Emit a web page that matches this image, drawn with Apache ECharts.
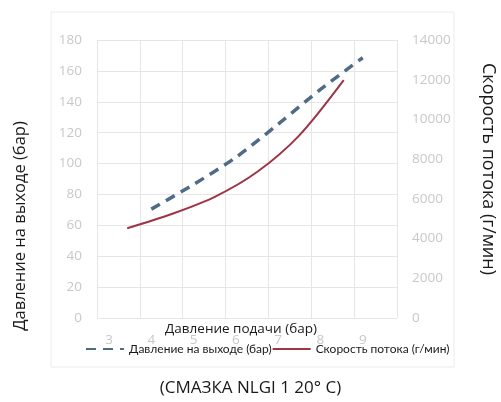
<!DOCTYPE html>
<html>
<head>
<meta charset="utf-8">
<script src="https://cdn.jsdelivr.net/npm/echarts@6/dist/echarts.min.js"></script>
<style>
  html, body { margin: 0; padding: 0; background: #fff; }
  #chart { width: 501px; height: 402px; }
</style>
</head>
<body>
<div id="chart"></div>
<script>
// данные
const pressureX = [4, 5, 6, 7, 8, 9]            // давление подачи (бар)
const outletPressure = [70.5, 86.5, 104, 125.5, 148, 168.5] // давление на выходе (бар)
const flowX = [3.43, 4.5, 5.5, 6.5, 7.5, 8.55]
const flowRate = [4520, 5250, 6100, 7350, 9200, 11980] // скорость потока (г/мин)
const xTicks = [3, 4, 5, 6, 7, 8, 9]

const font = 'Open Sans, Noto Sans, sans-serif'
const chart = echarts.init(document.getElementById('chart'))

const option = {
  backgroundColor: '#fff',
  animation: false,
  textStyle: { fontFamily: font },
  title: {
    text: '(СМАЗКА NLGI 1 20° C)',
    left: 'center',
    top: 375,
    textStyle: { fontSize: 17, fontWeight: 'normal', color: '#1a1a1a', fontFamily: font }
  },
  graphic: [
    {
      type: 'rect', z: -1, silent: true,
      shape: { x: 51, y: 12, width: 403, height: 355 },
      style: { fill: 'none', stroke: '#ececec', lineWidth: 1 }
    },
    {
      type: 'text', x: 20, y: 226, rotation: Math.PI / 2,
      style: { text: 'Давление на выходе (бар)', fontSize: 16.5, fill: '#1a1a1a', fontFamily: font, align: 'center', verticalAlign: 'middle' }
    },
    {
      type: 'text', x: 488, y: 169, rotation: -Math.PI / 2,
      style: { text: 'Скорость потока (г/мин)', fontSize: 18, fill: '#1a1a1a', fontFamily: font, align: 'center', verticalAlign: 'middle' }
    }
  ],
  grid: { left: 97, right: 104, top: 40, bottom: 84, containLabel: false },
  legend: {
    left: 80,
    top: 338,
    itemWidth: 38,
    itemHeight: 12,
    itemGap: 0,
    itemStyle: { opacity: 0 },
    textStyle: { fontSize: 12, color: '#1a1a1a', fontFamily: 'Liberation Sans Narrow, Lato, sans-serif' },
    data: ['Давление на выходе (бар)', 'Скорость потока (г/мин)']
  },
  xAxis: [
    {
      type: 'value',
      min: 2.716,
      max: 9.81,
      name: 'Давление подачи (бар)',
      nameLocation: 'middle',
      nameGap: 4,
      nameMoveOverlap: false,
      nameTextStyle: { fontSize: 13.5, color: '#1a1a1a', padding: [0, 12, 0, 0] },
      axisLine: { show: false },
      axisTick: { show: false },
      splitLine: { show: false },
      axisLabel: { customValues: xTicks, color: '#c8c8c8', fontSize: 13.5, margin: 15 }
    },
    {
      // только вертикальная сетка
      type: 'value',
      min: 0,
      max: 7,
      interval: 1,
      position: 'bottom',
      axisLine: { show: false },
      axisTick: { show: false },
      axisLabel: { show: false },
      splitLine: { show: true, lineStyle: { color: '#e6e6e6', width: 1 } }
    }
  ],
  yAxis: [
    {
      type: 'value',
      min: 0,
      max: 180,
      interval: 20,
      axisLine: { show: false },
      axisTick: { show: false },
      axisLabel: { color: '#c8c8c8', fontSize: 13.5, margin: 15 },
      splitLine: { lineStyle: { color: '#e6e6e6', width: 1 } }
    },
    {
      type: 'value',
      min: 0,
      max: 14000,
      interval: 2000,
      position: 'right',
      axisLine: { show: false },
      axisTick: { show: false },
      axisLabel: { color: '#c8c8c8', fontSize: 13.5, margin: 15, formatter: v => String(v) },
      splitLine: { show: false }
    }
  ],
  series: [
    {
      name: 'Давление на выходе (бар)',
      type: 'line',
      xAxisIndex: 0,
      yAxisIndex: 0,
      smooth: 0.3,
      symbol: 'none',
      data: pressureX.map((x, i) => [x, outletPressure[i]]),
      lineStyle: { color: '#4f6b88', width: 3.5, type: [10, 7] },
      itemStyle: { color: '#4f6b88' }
    },
    {
      name: 'Скорость потока (г/мин)',
      type: 'line',
      xAxisIndex: 0,
      yAxisIndex: 1,
      smooth: 0.3,
      symbol: 'none',
      data: flowX.map((x, i) => [x, flowRate[i]]),
      lineStyle: { color: '#9c3546', width: 2 },
      itemStyle: { color: '#9c3546' }
    }
  ]
}

chart.setOption(option)
</script>
</body>
</html>
